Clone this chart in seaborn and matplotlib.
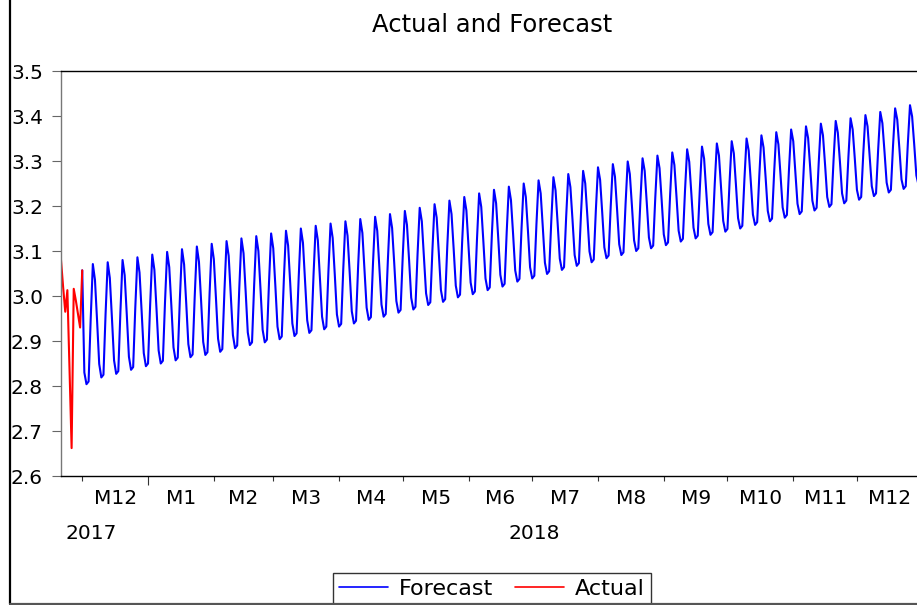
import matplotlib
matplotlib.use("Agg")
import matplotlib.pyplot as plt
import matplotlib.dates as mdates
from matplotlib.lines import Line2D
import pandas as pd
import seaborn as sns

# ---- data -----------------------------------------------------------------
start = pd.Timestamp("2017-11-21")

# observed values, 2017-11-21 .. 2017-12-01
actual_values = [3.080, 3.020, 2.965, 3.013, 2.840, 2.662,
                 3.016, 2.990, 2.960, 2.930, 3.057]

# forecast, 2017-12-01 .. 2017-12-05
forecast_lead = [3.057, 2.830, 2.804, 2.810, 2.950]

# forecast, one row per week starting 2017-12-06
forecast_weeks = [
    [3.071, 3.036, 2.945, 2.849, 2.819, 2.825, 2.960],
    [3.075, 3.040, 2.951, 2.857, 2.827, 2.833, 2.966],
    [3.080, 3.046, 2.958, 2.865, 2.836, 2.842, 2.974],
    [3.086, 3.052, 2.965, 2.873, 2.844, 2.850, 2.980],
    [3.092, 3.058, 2.971, 2.879, 2.850, 2.856, 2.986],
    [3.098, 3.064, 2.978, 2.886, 2.857, 2.863, 2.993],
    [3.104, 3.070, 2.984, 2.893, 2.864, 2.870, 2.999],
    [3.110, 3.076, 2.990, 2.898, 2.869, 2.875, 3.005],
    [3.116, 3.082, 2.996, 2.905, 2.876, 2.882, 3.011],
    [3.122, 3.089, 3.003, 2.913, 2.884, 2.890, 3.018],
    [3.128, 3.095, 3.010, 2.919, 2.891, 2.897, 3.024],
    [3.133, 3.100, 3.015, 2.925, 2.897, 2.903, 3.030],
    [3.139, 3.106, 3.022, 2.932, 2.904, 2.910, 3.037],
    [3.145, 3.112, 3.028, 2.939, 2.911, 2.917, 3.042],
    [3.150, 3.118, 3.034, 2.946, 2.918, 2.924, 3.049],
    [3.156, 3.124, 3.041, 2.954, 2.926, 2.932, 3.055],
    [3.161, 3.129, 3.047, 2.959, 2.932, 2.938, 3.061],
    [3.166, 3.134, 3.053, 2.966, 2.939, 2.945, 3.067],
    [3.171, 3.140, 3.059, 2.974, 2.947, 2.953, 3.073],
    [3.176, 3.145, 3.065, 2.981, 2.954, 2.960, 3.079],
    [3.182, 3.151, 3.073, 2.989, 2.963, 2.969, 3.087],
    [3.189, 3.158, 3.080, 2.996, 2.970, 2.976, 3.094],
    [3.196, 3.166, 3.088, 3.006, 2.980, 2.986, 3.103],
    [3.204, 3.174, 3.096, 3.013, 2.987, 2.993, 3.111],
    [3.212, 3.182, 3.105, 3.023, 2.997, 3.003, 3.120],
    [3.220, 3.190, 3.112, 3.030, 3.004, 3.010, 3.127],
    [3.228, 3.198, 3.121, 3.039, 3.013, 3.019, 3.136],
    [3.236, 3.206, 3.129, 3.047, 3.021, 3.027, 3.143],
    [3.243, 3.213, 3.138, 3.057, 3.032, 3.038, 3.152],
    [3.250, 3.220, 3.145, 3.064, 3.039, 3.045, 3.159],
    [3.257, 3.228, 3.153, 3.074, 3.049, 3.055, 3.167],
    [3.264, 3.235, 3.161, 3.083, 3.058, 3.064, 3.175],
    [3.271, 3.242, 3.169, 3.091, 3.067, 3.073, 3.183],
    [3.278, 3.250, 3.177, 3.099, 3.075, 3.081, 3.191],
    [3.286, 3.258, 3.185, 3.108, 3.084, 3.090, 3.199],
    [3.293, 3.265, 3.192, 3.115, 3.091, 3.097, 3.205],
    [3.299, 3.271, 3.200, 3.124, 3.100, 3.106, 3.213],
    [3.306, 3.278, 3.206, 3.130, 3.106, 3.112, 3.219],
    [3.312, 3.284, 3.213, 3.137, 3.113, 3.119, 3.226],
    [3.319, 3.291, 3.220, 3.145, 3.121, 3.127, 3.234],
    [3.326, 3.298, 3.227, 3.152, 3.128, 3.134, 3.240],
    [3.332, 3.305, 3.234, 3.160, 3.136, 3.142, 3.248],
    [3.339, 3.312, 3.241, 3.167, 3.143, 3.149, 3.254],
    [3.344, 3.317, 3.247, 3.173, 3.150, 3.156, 3.260],
    [3.350, 3.323, 3.254, 3.181, 3.158, 3.164, 3.267],
    [3.357, 3.330, 3.262, 3.189, 3.166, 3.172, 3.275],
    [3.364, 3.337, 3.269, 3.197, 3.174, 3.180, 3.282],
    [3.370, 3.344, 3.276, 3.205, 3.182, 3.188, 3.289],
    [3.377, 3.351, 3.284, 3.212, 3.190, 3.196, 3.296],
    [3.383, 3.357, 3.291, 3.220, 3.198, 3.204, 3.303],
    [3.389, 3.363, 3.298, 3.228, 3.206, 3.212, 3.310],
    [3.395, 3.370, 3.305, 3.236, 3.214, 3.220, 3.317],
    [3.402, 3.377, 3.312, 3.244, 3.222, 3.228, 3.325],
    [3.409, 3.384, 3.320, 3.252, 3.230, 3.236, 3.333],
    [3.417, 3.392, 3.328, 3.259, 3.238, 3.244, 3.340],
    [3.424, 3.399, 3.336, 3.268, 3.247, 3.253],
]

month_labels = ["M12", "M1", "M2", "M3", "M4", "M5", "M6",
                "M7", "M8", "M9", "M10", "M11", "M12"]
year_labels = ["2017", "2018"]
y_ticks = [2.6, 2.7, 2.8, 2.9, 3.0, 3.1, 3.2, 3.3, 3.4, 3.5]

# ---- frames ---------------------------------------------------------------
forecast_values = forecast_lead + [v for week in forecast_weeks for v in week]
actual_df = pd.DataFrame({
    "date": pd.date_range(start, periods=len(actual_values), freq="D"),
    "value": actual_values,
})
forecast_df = pd.DataFrame({
    "date": pd.date_range(start + pd.Timedelta(days=len(actual_values) - 1),
                          periods=len(forecast_values), freq="D"),
    "value": forecast_values,
})
end = forecast_df["date"].iloc[-1]

# ---- style ----------------------------------------------------------------
sns.set_theme(style="white")
plt.rcParams["font.family"] = ["DejaVu Sans"]
plt.rcParams["axes.linewidth"] = 1.0
plt.rcParams["text.color"] = "black"

W, H = 917, 605
fig = plt.figure(figsize=(W / 100, H / 100), dpi=100)
fig.patch.set_facecolor("white")

left_px, right_px, top_px, bottom_px = 61, 920.6, 71, 476
ax = fig.add_axes([left_px / W, 1 - bottom_px / H,
                   (right_px - left_px) / W, (bottom_px - top_px) / H])

sns.lineplot(data=forecast_df, x="date", y="value", ax=ax, color="#0000FF",
             linewidth=1.5, estimator=None, sort=False, label="Forecast")
sns.lineplot(data=actual_df, x="date", y="value", ax=ax, color="#FF0000",
             linewidth=1.5, estimator=None, sort=False, label="Actual")

ax.set_xlim(mdates.date2num(start), mdates.date2num(end))
ax.set_ylim(2.6, 3.5)
ax.set_xlabel("")
ax.set_ylabel("")

# y axis
ax.set_yticks(y_ticks)
ax.set_yticklabels([f"{t:.1f}" for t in y_ticks])
ax.tick_params(axis="y", which="major", direction="out", length=6.5,
               width=0.8, color="#666666", pad=6.5, labelsize=14.5,
               labelcolor="black", left=True)

# x axis: month boundary ticks, month names centred in each month
month_starts = pd.date_range("2017-12-01", "2018-12-01", freq="MS")
month_ends = month_starts + pd.offsets.MonthBegin(1)
month_mids = [s + (e - s) / 2 for s, e in zip(month_starts, month_ends)]
ax.set_xticks(mdates.date2num(month_starts))
ax.set_xticklabels([""] * len(month_starts))
ax.set_xticks(mdates.date2num(month_mids), minor=True)
ax.set_xticklabels(month_labels, minor=True)
ax.tick_params(axis="x", which="major", direction="out", length=3.8,
               width=0.8, color="#333333", bottom=True)
ax.tick_params(axis="x", which="minor", length=0, pad=9, labelsize=14.5,
               labelcolor="black", bottom=True)
ax.xaxis.get_major_ticks()[1].tick1line.set_markersize(6.5)

year_pos = [pd.Timestamp("2017-12-05"), pd.Timestamp("2018-07-02")]
for pos, txt in zip(year_pos, year_labels):
    ax.text(mdates.date2num(pos), -0.143, txt, transform=ax.get_xaxis_transform(),
            ha="center", va="center", fontsize=14.5, color="black")

for side in ["top", "bottom", "right"]:
    ax.spines[side].set_color("black")
ax.spines["left"].set_color("#777777")

ax.get_legend().remove()

fig.text(492 / W, 1 - 25 / H, "Actual and Forecast", ha="center", va="center",
         fontsize=17.5, color="black")

handles = [Line2D([], [], color="#0000FF", linewidth=1.2),
           Line2D([], [], color="#FF0000", linewidth=1.2)]
leg = fig.legend(handles, ["Forecast", "Actual"], loc="upper center",
                 bbox_to_anchor=(492 / W, 1 - 573 / H), ncol=2,
                 frameon=True, fancybox=False, shadow=False,
                 fontsize=16, handlelength=2.2, handletextpad=0.5,
                 columnspacing=1.0, borderpad=0.25, borderaxespad=0,
                 labelcolor="black")
leg.get_frame().set_edgecolor("black")
leg.get_frame().set_linewidth(1.0)

# outer graph frame (left edge and bottom edge)
fig.add_artist(Line2D([9.5 / W, 9.5 / W], [1 - 604 / H, 1.0], transform=fig.transFigure,
                      color="black", linewidth=1.6, zorder=10))
fig.add_artist(Line2D([9.5 / W, 1.0], [1 - 604 / H, 1 - 604 / H],
                      transform=fig.transFigure, color="#555555", linewidth=1.6,
                      zorder=10))

fig.savefig("out.png", dpi=100, facecolor="white")
